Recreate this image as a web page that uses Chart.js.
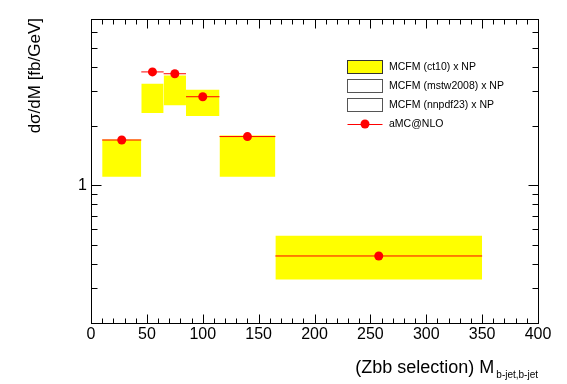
<!DOCTYPE html>
<html>
<head>
<meta charset="utf-8">
<script src="https://cdn.jsdelivr.net/npm/chart.js@4.4.1/dist/chart.umd.min.js"></script>
<style>
  html, body { margin: 0; padding: 0; background: #fff; }
  #wrap { width: 567px; height: 384px; }
</style>
</head>
<body>
<div id="wrap"><canvas id="chart" width="567" height="384"></canvas></div>
<script>
// Bin edges of M(b-jet,b-jet) in GeV
const binLow = [10, 45, 65, 85, 115, 165];
const binHigh = [45, 65, 85, 115, 165, 350];

// MCFM (ct10) x NP band, upper and lower edge [fb/GeV]
const mcfmUp = [1.71, 3.28, 3.62, 3.06, 1.79, 0.555];
const mcfmDown = [1.105, 2.33, 2.55, 2.25, 1.105, 0.333];

// aMC@NLO central values [fb/GeV]
const amcnlo = [1.70, 3.77, 3.69, 2.82, 1.77, 0.438];

// Axis ticks
const xTickLabels = [0, 50, 100, 150, 200, 250, 300, 350, 400];
const yTickLabels = [1];
const yMinorTicks = [0.3, 0.4, 0.5, 0.6, 0.7, 0.8, 0.9, 2, 3, 4, 5, 6];

const legendLabels = ['MCFM (ct10) x NP', 'MCFM (mstw2008) x NP', 'MCFM (nnpdf23) x NP', 'aMC@NLO'];

const FONT = '"Liberation Sans", Arial, Helvetica, sans-serif';
const YELLOW = '#ffff00';
const RED = '#ff0000';

// Build datasets
const datasets = [];
binLow.forEach((lo, i) => {
    // upper edge, filled down to the lower edge (next dataset)
    datasets.push({
        label: 'mcfm-up-' + i,
        data: [{ x: lo, y: mcfmUp[i] }, { x: binHigh[i], y: mcfmUp[i] }],
        borderColor: 'rgba(0,0,0,0)',
        borderWidth: 1,
        pointRadius: 0,
        backgroundColor: YELLOW,
        fill: '+1',
        order: 3
    });
    datasets.push({
        label: 'mcfm-down-' + i,
        data: [{ x: lo, y: mcfmDown[i] }, { x: binHigh[i], y: mcfmDown[i] }],
        borderColor: 'rgba(0,0,0,0)',
        borderWidth: 1,
        pointRadius: 0,
        fill: false,
        order: 3
    });
});

// horizontal bin-width bars of aMC@NLO
const amcBars = [];
binLow.forEach((lo, i) => {
    amcBars.push({ x: lo, y: amcnlo[i] });
    amcBars.push({ x: binHigh[i], y: amcnlo[i] });
    amcBars.push({ x: binHigh[i], y: null });
});
datasets.push({
    label: 'amc-bars',
    data: amcBars,
    borderColor: RED,
    borderWidth: 1,
    pointRadius: 0,
    spanGaps: false,
    fill: false,
    order: 2
});

// aMC@NLO markers at bin centres
datasets.push({
    label: legendLabels[3],
    data: binLow.map((lo, i) => ({ x: (lo + binHigh[i]) / 2, y: amcnlo[i] })),
    showLine: false,
    pointRadius: 4.5,
    pointBackgroundColor: RED,
    pointBorderWidth: 0,
    fill: false,
    order: 1
});

// Frame, inward ticks, axis titles and legend (ROOT style)
const rootStyle = {
    id: 'rootStyle',
    afterDraw(chart) {
        const c = chart.ctx;
        const a = chart.chartArea;
        const xs = chart.scales.x;
        const ys = chart.scales.y;
        const L = Math.round(a.left) + 0.5, R = Math.round(a.right) + 0.5;
        const T = Math.round(a.top) + 0.5, B = Math.round(a.bottom) + 0.5;

        c.save();
        c.strokeStyle = '#000';
        c.lineWidth = 1;
        c.strokeRect(L, T, R - L, B - T);

        c.beginPath();
        // x ticks, bottom and top
        for (let v = 0; v <= 400; v += 10) {
            const px = Math.round(xs.getPixelForValue(v)) + 0.5;
            const len = v % 50 === 0 ? 9 : 5;
            c.moveTo(px, B); c.lineTo(px, B - len);
            c.moveTo(px, T); c.lineTo(px, T + len);
        }
        // y ticks, left and right
        yTickLabels.concat(yMinorTicks).forEach(v => {
            const py = Math.round(ys.getPixelForValue(v)) + 0.5;
            const len = yTickLabels.includes(v) ? 10 : 6;
            c.moveTo(L, py); c.lineTo(L + len, py);
            c.moveTo(R, py); c.lineTo(R - len, py);
        });
        c.stroke();

        // x title with subscript
        c.fillStyle = '#000';
        c.textBaseline = 'alphabetic';
        c.font = '10px ' + FONT;
        const sub = 'b-jet,b-jet';
        const subW = c.measureText(sub).width;
        c.textAlign = 'right';
        c.fillText(sub, a.right, 378);
        c.font = '18px ' + FONT;
        c.fillText('(Zbb selection) M', a.right - subW - 2, 373);

        // y title
        c.save();
        c.translate(40, 18);
        c.rotate(-Math.PI / 2);
        c.textAlign = 'right';
        c.font = '17px ' + FONT;
        c.fillText('d\u03c3/dM [fb/GeV]', 0, 0);
        c.restore();

        // legend
        const bx = 347.5, bw = 35, bh = 13;
        const rowY = [66.5, 85.5, 104.5, 124];
        c.font = '10.5px ' + FONT;
        c.textAlign = 'left';
        c.textBaseline = 'middle';
        legendLabels.forEach((lab, i) => {
            const y = rowY[i];
            if (i < 3) {
                const top = Math.round(y - bh / 2) + 0.5;
                c.fillStyle = i === 0 ? YELLOW : '#fff';
                c.fillRect(bx, top, bw, bh);
                c.strokeStyle = i === 0 ? '#333' : '#555';
                c.strokeRect(bx, top, bw, bh);
            } else {
                c.strokeStyle = RED;
                c.beginPath();
                c.moveTo(bx, Math.round(y) + 0.5);
                c.lineTo(bx + bw, Math.round(y) + 0.5);
                c.stroke();
                c.fillStyle = RED;
                c.beginPath();
                c.arc(bx + bw / 2, y, 4.5, 0, Math.PI * 2);
                c.fill();
            }
            c.fillStyle = '#000';
            c.fillText(lab, 389, y + 0.5);
        });
        c.restore();
    }
};

new Chart(document.getElementById('chart').getContext('2d'), {
    type: 'line',
    data: { datasets: datasets },
    options: {
        responsive: false,
        animation: false,
        layout: { padding: { left: 0, top: 19, right: 29, bottom: 0 } },
        plugins: {
            legend: { display: false },
            tooltip: { enabled: false }
        },
        scales: {
            x: {
                type: 'linear',
                min: 0,
                max: 400,
                grid: { display: false, drawTicks: false },
                border: { display: false },
                afterBuildTicks: s => { s.ticks = xTickLabels.map(v => ({ value: v })); },
                afterFit: s => { s.height = 61; },
                ticks: {
                    autoSkip: false,
                    maxRotation: 0,
                    padding: 2,
                    color: '#000',
                    font: { family: FONT, size: 16 },
                    callback: v => String(v)
                }
            },
            y: {
                type: 'logarithmic',
                min: 0.2,
                max: 7,
                grid: { display: false, drawTicks: false },
                border: { display: false },
                afterBuildTicks: s => { s.ticks = yTickLabels.map(v => ({ value: v })); },
                afterFit: s => { s.width = 91; },
                ticks: {
                    padding: 4,
                    color: '#000',
                    font: { family: FONT, size: 16 },
                    callback: v => String(v)
                }
            }
        }
    },
    plugins: [rootStyle]
});
</script>
</body>
</html>
